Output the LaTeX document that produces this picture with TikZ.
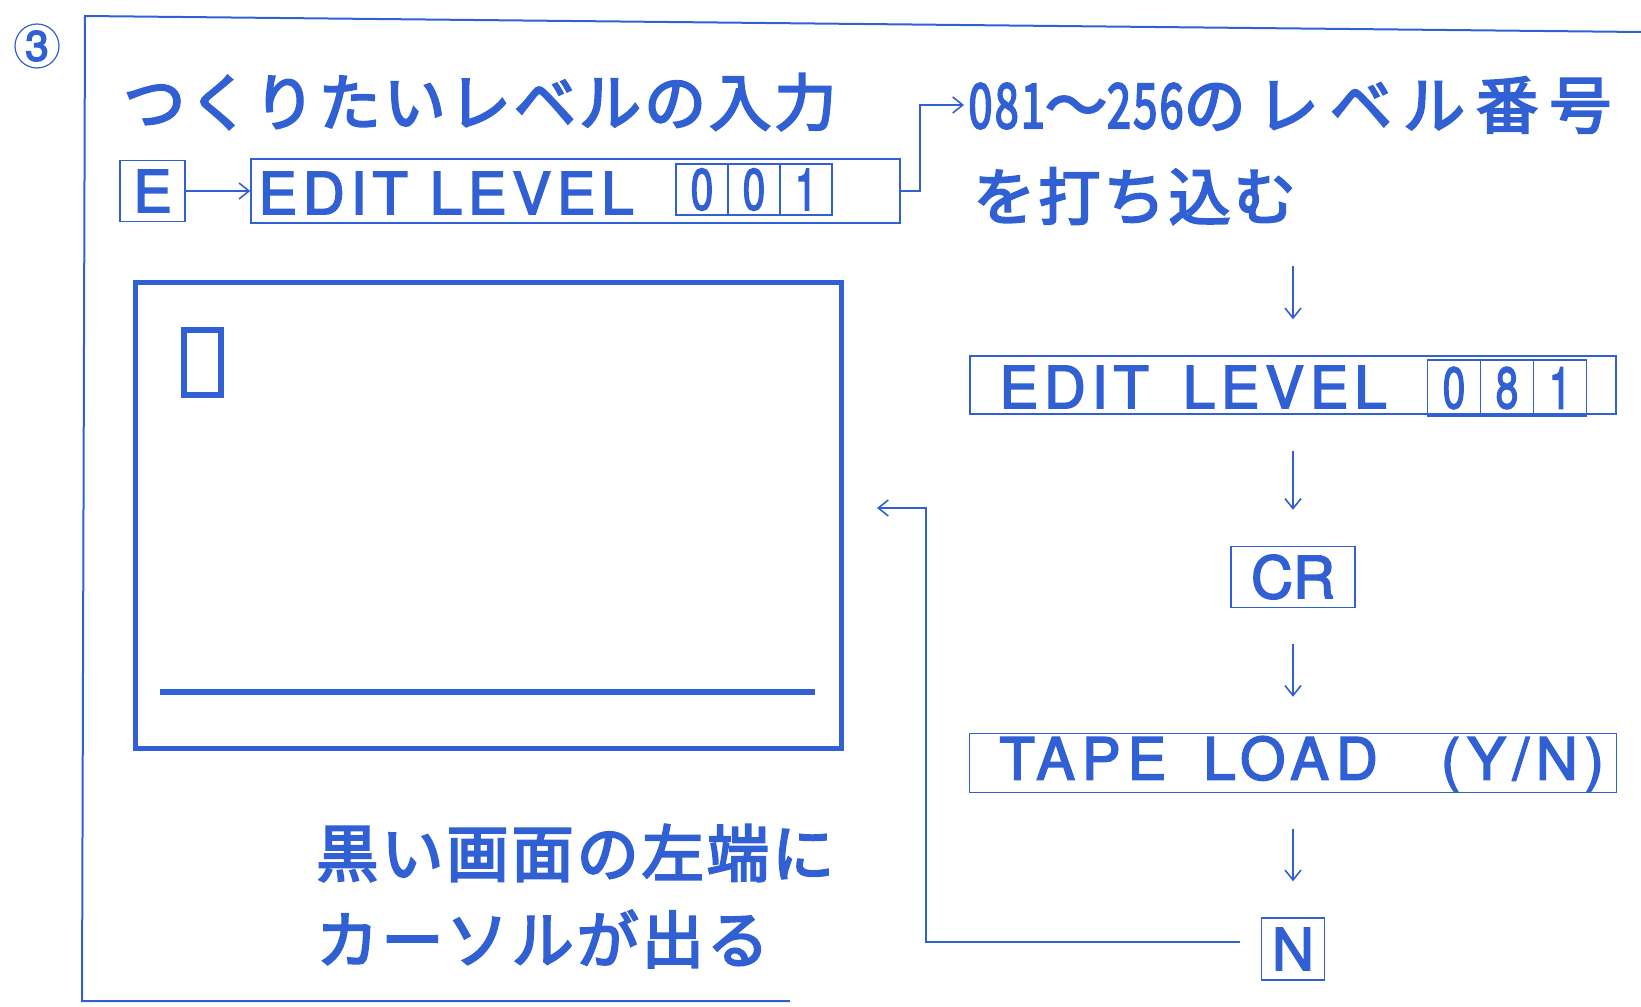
\documentclass[tikz,border=0pt]{standalone}
\usepackage{fontspec}
\usepackage{graphicx}
\setmainfont{TeX Gyre Heros}
\newfontfamily\jp{Noto Sans CJK JP}
\usetikzlibrary{positioning}
\usetikzlibrary{arrows.meta}
\definecolor{ink}{RGB}{48,96,212}
\newcommand\keyfont{\fontsize{29}{31}\selectfont}
\newcommand\thick[2]{\special{pdf:literal direct 2 Tr #1 w}#2\special{pdf:literal direct 0 Tr}}

\begin{document}
\begin{tikzpicture}[x=0.5pt, y=-0.5pt, color=ink,
jptext/.style={font=\jp\fontsize{31}{34}\selectfont\addfontfeature{LetterSpace=5}, inner sep=0pt, anchor=west},
lat/.style={font=\keyfont\addfontfeature{LetterSpace=10}, inner sep=0pt, anchor=west},
keybox/.style={draw, line width=0.7pt, inner sep=0pt, font=\keyfont},
cell/.style={draw, line width=0.6pt, inner sep=0pt, minimum width=26pt, font=\keyfont},
flow/.style={-{Straight Barb[length=5pt,width=8pt]}, line width=0.8pt}]
\useasboundingbox (0,0) rectangle (1641,1006);
\draw[line width=1pt] (1641,32) -- (85,16) -- (82,1001) -- (790,1001);
\node[circle, draw, line width=0.6pt, minimum size=22pt, inner sep=0pt, font=\fontsize{21}{21}\selectfont] (num3) at (37,46) {\thick{0.8}{3}};

% top line
\node[jptext] (title) at (123,102) {\thick{1.1}{つくりたいレベルの入力}};
\node[keybox, minimum width=32.5pt, minimum height=30.5pt] (ekey) at (152.5,191) {\thick{0.8}{E}};
\node[keybox, minimum width=324.5pt, minimum height=32pt] (lvlA) at (575.5,191) {};
\node[lat] (lvlAtxt) at (258,193) {\thick{0.8}{EDIT LEVEL}};
\foreach \d [count=\i] in {0,0,1}{
\node[cell, minimum height=25.5pt] (a\i) at (650+52*\i,189.5) {\scalebox{0.7}[1]{\thick{0.8}{\d}}};}
\draw[flow] (ekey) -- (lvlA);
\node[jptext] (rng) at (968,105) {\thick{1.1}{\scalebox{0.7}[1]{081}〜\scalebox{0.7}[1]{256}{\addfontfeature{LetterSpace=18}のレベル番号}}};
\node[jptext] (rng2) at (973,196) {\thick{1.1}{を打ち込む}};
\draw[flow, shorten >=2pt] (lvlA.east) -- ++(19,0) |- (rng.west);

% right column
\coordinate (c0) at (1293,230);
\node[keybox, minimum width=323pt, minimum height=29pt] (lvlB) at (1293,385) {};
\node[lat] (lvlBtxt) at (999,387) {\thick{0.8}{EDIT\hspace{6pt} LEVEL}};
\foreach \d [count=\i] in {0,8,1}{
\node[cell, minimum width=26.5pt, minimum height=28pt] (b\i) at (1401+53*\i,388) {\scalebox{0.7}[1]{\thick{0.8}{\d}}};}
\node[keybox, minimum width=62pt, minimum height=30.5pt] (cr) at (1293,577) {\thick{0.8}{CR}};
\node[keybox, minimum width=323.5pt, minimum height=29.5pt] (tape) at (1293,763) {};
\node[lat, font=\keyfont\addfontfeature{LetterSpace=12}] (tapetxt) at (999,764) {\thick{0.8}{TAPE\hspace{7pt} LOAD\hspace{20pt} (Y/N)}};
\node[keybox, minimum width=31.5pt, minimum height=31pt] (nkey) at (1293,949) {\thick{0.8}{N}};
\foreach \a/\b in {c0/lvlB, lvlB/cr, cr/tape, tape/nkey}{
\draw[flow, shorten <=18pt, shorten >=18pt] (\a) -- (\b);}

% screen
\node[draw, line width=2.4pt, minimum width=353pt, minimum height=233pt, inner sep=0pt] (scrn) at (488.5,515.5) {};
\node[draw, line width=3pt, minimum width=18.5pt, minimum height=32.5pt, inner sep=0pt] (cursor) at (202.5,362.5) {};
\draw[line width=3pt] (160,692) -- (815,692);
\coordinate (back) at (877,508);
\draw[flow] ([xshift=-10.5pt, yshift=3.5pt]nkey.west) -| ([xshift=24.5pt]back) -- (back);
\node[jptext] (cap1) at (316,853) {\thick{1.1}{黒い画面の左端に}};
\node[jptext] (cap2) at (316,939) {\thick{1.1}{カーソルが出る}};
\end{tikzpicture}
\end{document}
